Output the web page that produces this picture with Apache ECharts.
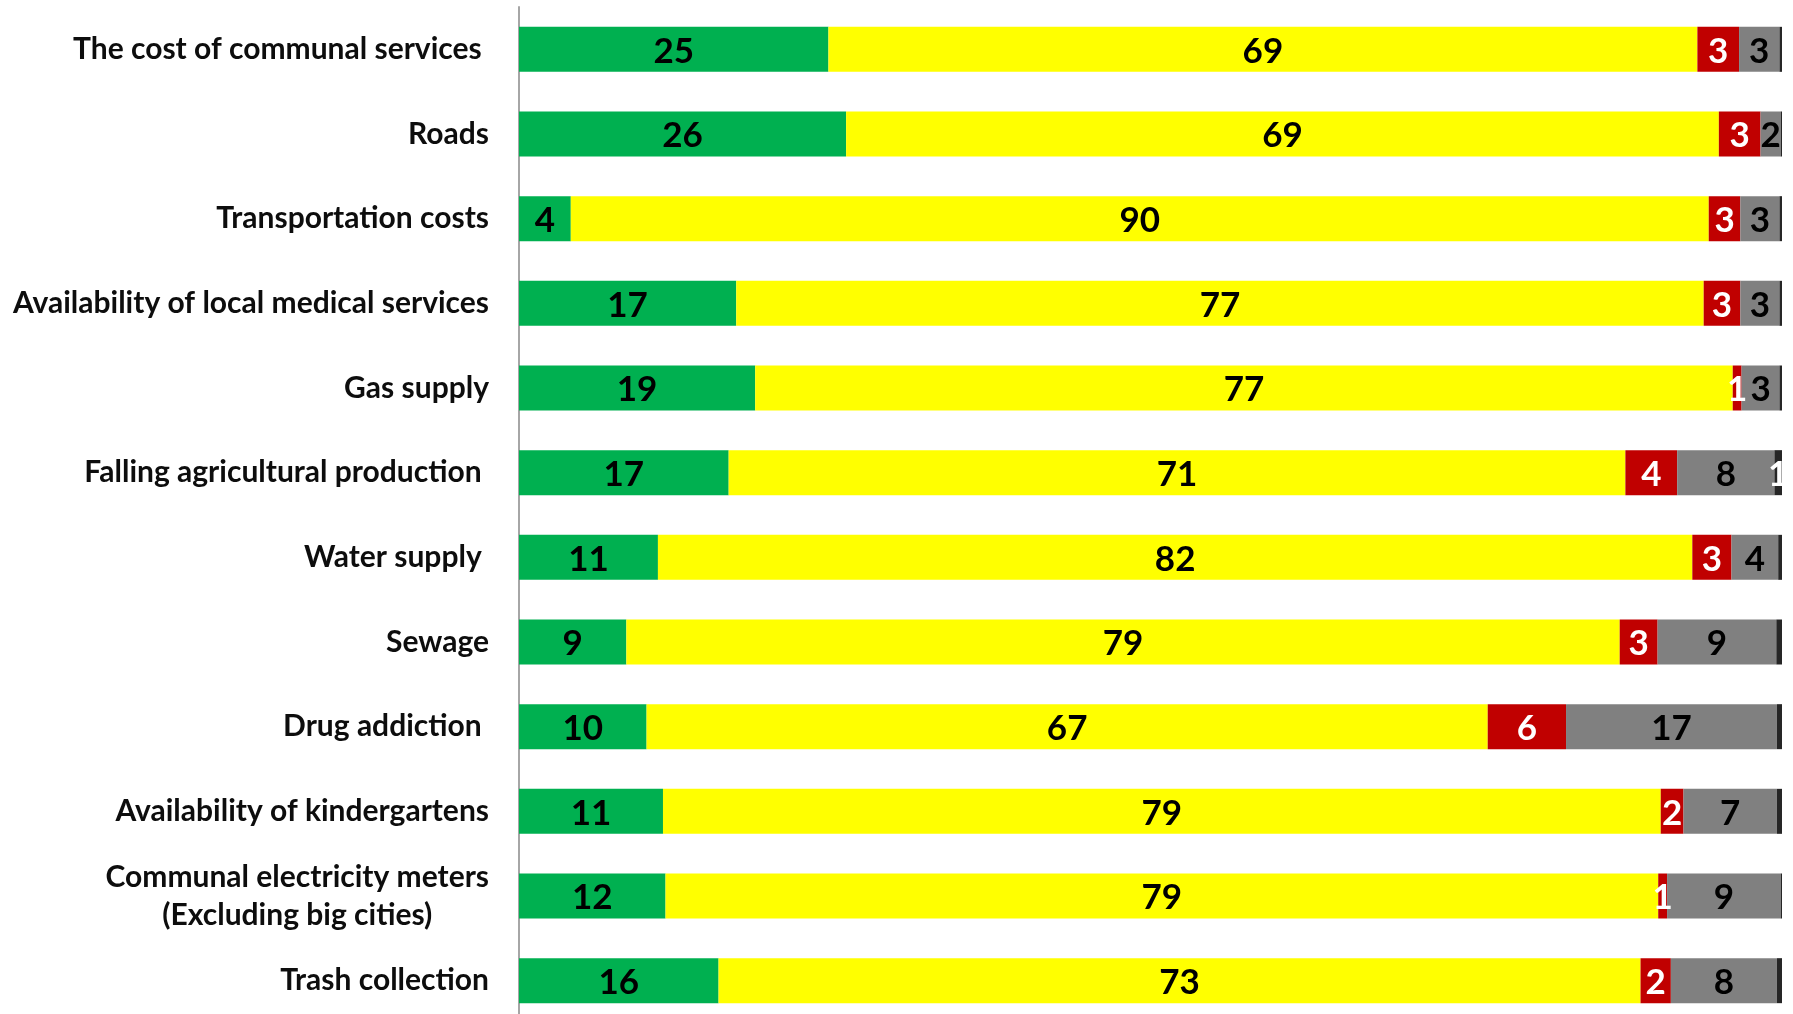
<!DOCTYPE html>
<html>
<head>
<meta charset="utf-8">
<script src="https://cdn.jsdelivr.net/npm/echarts@6/dist/echarts.min.js"></script>
<style>
html,body{margin:0;padding:0;background:#fff;overflow:hidden;}
#chart{width:1793px;height:1040px;}
</style>
</head>
<body>
<div id="chart"></div>
<script>
var categories = [
  'The cost of communal services ',
  'Roads',
  'Transportation costs',
  'Availability of local medical services',
  'Gas supply',
  'Falling agricultural production ',
  'Water supply ',
  'Sewage',
  'Drug addiction ',
  'Availability of kindergartens',
  'Communal electricity meters\n(Excluding big cities)',
  'Trash collection'
];
var greenVals  = [24.5, 25.9,  4.1, 17.2, 18.7, 16.6, 11.0,  8.5, 10.1, 11.4, 11.6, 15.8];
var yellowVals = [68.8, 69.1, 90.1, 76.6, 77.4, 71.0, 81.9, 78.65, 66.6, 79.0, 78.6, 73.0];
var redVals    = [ 3.3,  3.3,  2.5,  2.9,  0.7,  4.1,  3.1,  3.0,  6.2,  1.8,  0.7,  2.4];
var grayVals   = [ 3.2,  1.6,  3.1,  3.1,  3.0,  7.7,  3.7,  9.4, 16.7,  7.4,  9.0,  8.4];
var darkVals   = [ 0.2,  0.1,  0.2,  0.2,  0.2,  0.6,  0.3,  0.45, 0.4,  0.4,  0.1,  0.4];

var FONT = 'Lato';
function mkSeries(name, data, color, labelColor) {
  return {
    name: name, type: 'bar', stack: 'total', data: data, barWidth: 45,
    itemStyle: { color: color },
    label: {
      show: true, position: 'inside', color: labelColor, offset: [0, 2],
      fontFamily: FONT, fontWeight: 'bold', fontSize: 35,
      formatter: function (p) { var r = Math.round(p.value); return r >= 1 ? String(r) : ''; }
    }
  };
}

var chart = echarts.init(document.getElementById('chart'), null, { renderer: 'canvas' });
chart.setOption({
  animation: false,
  backgroundColor: '#ffffff',
  grid: { left: 519, right: 11, top: 7, height: 1016, containLabel: false },
  xAxis: { type: 'value', min: 0, max: 100, show: false },
  yAxis: {
    type: 'category', inverse: true, data: categories,
    axisLine: { show: true, lineStyle: { color: '#a6a6a6', width: 2 } },
    axisTick: { show: false },
    splitLine: { show: false },
    axisLabel: {
      margin: 30, color: '#0d0d0d', fontFamily: FONT, fontWeight: 'bold', fontSize: 30,
      formatter: function (v) {
        if (v.indexOf('\n') >= 0) {
          var parts = v.split('\n');
          return '{a|' + parts[0] + '}\n{b|' + parts[1] + '}';
        }
        return v;
      },
      rich: {
        a: { fontFamily: FONT, fontWeight: 'bold', fontSize: 30, color: '#0d0d0d', lineHeight: 38 },
        b: { fontFamily: FONT, fontWeight: 'bold', fontSize: 30, color: '#0d0d0d', lineHeight: 38, align: 'center' }
      }
    }
  },
  series: [
    mkSeries('green', greenVals, '#00b050', '#000000'),
    mkSeries('yellow', yellowVals, '#ffff00', '#000000'),
    mkSeries('red', redVals, '#c00000', '#ffffff'),
    mkSeries('gray', grayVals, '#808080', '#000000'),
    mkSeries('dark', darkVals, '#262626', '#ffffff')
  ]
});
</script>
</body>
</html>
